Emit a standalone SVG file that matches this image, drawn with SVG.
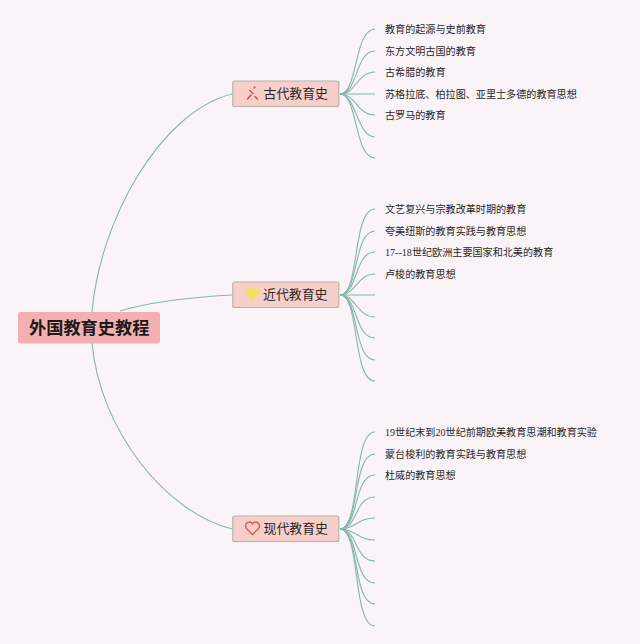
<svg xmlns="http://www.w3.org/2000/svg" width="640" height="644" viewBox="0 0 640 644">
<style>
text{font-family:"Liberation Serif","Noto Sans CJK SC",sans-serif;fill:#2b2626}
.leaf{font-size:10.1px;dominant-baseline:central}
.topic{font-size:12.9px;dominant-baseline:central}
.box{fill:#f6cfca;stroke:#b8b2a6;stroke-width:1.2}
.root{fill:#f4b0b0}
.rt{font-size:17.2px;font-weight:700;dominant-baseline:central;fill:#1c1a1a}
#connectors path{fill:none;stroke:#84b6aa;stroke-width:1.100}
</style>
<rect width="640" height="644" fill="#faf4f8"/>
<g id="connectors">
<path d="M92 312C100 220 160 112 232 94"/>
<path d="M120 311C150 302 195 297 232 295"/>
<path d="M92 343C100 430 165 512 232 529"/>
<path d="M340 94C358 94 354 29 375 29"/>
<path d="M340 94C358 94 355 51 375 51"/>
<path d="M340 94C356 94 357 72 375 72"/>
<path d="M340 94H375"/>
<path d="M340 94C356 94 357 115 375 115"/>
<path d="M340 94C356 94 357 137 375 137"/>
<path d="M340 94C358 94 354 158 375 158"/>
<path d="M340 295C360 295 352 209 375 209"/>
<path d="M340 295C359 295 353 231 375 231"/>
<path d="M340 295C358 295 354 252 375 252"/>
<path d="M340 295C356 295 357 274 375 274"/>
<path d="M340 295H375"/>
<path d="M340 295C356 295 357 317 375 317"/>
<path d="M340 295C358 295 354 338 375 338"/>
<path d="M340 295C359 295 353 360 375 360"/>
<path d="M340 295C360 295 352 381 375 381"/>
<path d="M340 529C361 529 352 432 375 432"/>
<path d="M340 529C360 529 352 454 375 454"/>
<path d="M340 529C359 529 353 475 375 475"/>
<path d="M340 529C358 529 354 497 375 497"/>
<path d="M340 529C356 529 357 518 375 518"/>
<path d="M340 529C356 529 357 540 375 540"/>
<path d="M340 529C358 529 354 561 375 561"/>
<path d="M340 529C359 529 353 583 375 583"/>
<path d="M340 529C360 529 352 604 375 604"/>
<path d="M340 529C361 529 352 626 375 626"/>
</g>
<g id="root">
<rect class="root" x="18" y="312" width="142" height="31.500" rx="2"/>
<text class="rt" x="29" y="328">外国教育史教程</text>
</g>
<g id="topic-ancient">
<rect class="box" x="232.800" y="81" width="106" height="25.500" rx="2"/>
<path d="M247.500 99L251 95M250 90.500L253 93.500M255 96.500L257.500 99M254 88L255 87" fill="none" stroke="#e4453f" stroke-width="1.500" stroke-linecap="round"/>
<text class="topic" x="263.500" y="94">古代教育史</text>
</g>
<g id="topic-modern-early">
<rect class="box" x="232.800" y="282" width="106" height="25.500" rx="2"/>
<path d="M247.500 288.500H257.500L260 292L252.500 301L245.500 292Z" fill="#f6e05a"/>
<text class="topic" x="263" y="295">近代教育史</text>
</g>
<g id="topic-contemporary">
<rect class="box" x="232.800" y="516" width="106" height="25.500" rx="2"/>
<path d="M252.500 534.500L246.500 528.500C244 525 247 522 249.500 522C251 522 252 523 252.500 524C253 523 254 522 255.500 522C258 522 261 525 258.500 528.500Z" fill="none" stroke="#de5a55" stroke-width="1.400"/>
<text class="topic" x="263.500" y="529">现代教育史</text>
</g>
<g id="leaves-ancient">
<text class="leaf" x="385" y="29.500">教育的起源与史前教育</text>
<text class="leaf" x="385" y="51">东方文明古国的教育</text>
<text class="leaf" x="385" y="72.500">古希腊的教育</text>
<text class="leaf" x="385" y="94">苏格拉底、柏拉图、亚里士多德的教育思想</text>
<text class="leaf" x="385" y="115.500">古罗马的教育</text>
</g>
<g id="leaves-modern-early">
<text class="leaf" x="385" y="209.500">文艺复兴与宗教改革时期的教育</text>
<text class="leaf" x="385" y="231">夸美纽斯的教育实践与教育思想</text>
<text class="leaf" x="385" y="252.500">17--18世纪欧洲主要国家和北美的教育</text>
<text class="leaf" x="385" y="274">卢梭的教育思想</text>
</g>
<g id="leaves-contemporary">
<text class="leaf" x="385" y="432.500">19世纪末到20世纪前期欧美教育思潮和教育实验</text>
<text class="leaf" x="385" y="454">蒙台梭利的教育实践与教育思想</text>
<text class="leaf" x="385" y="475.500">杜威的教育思想</text>
</g>
</svg>
